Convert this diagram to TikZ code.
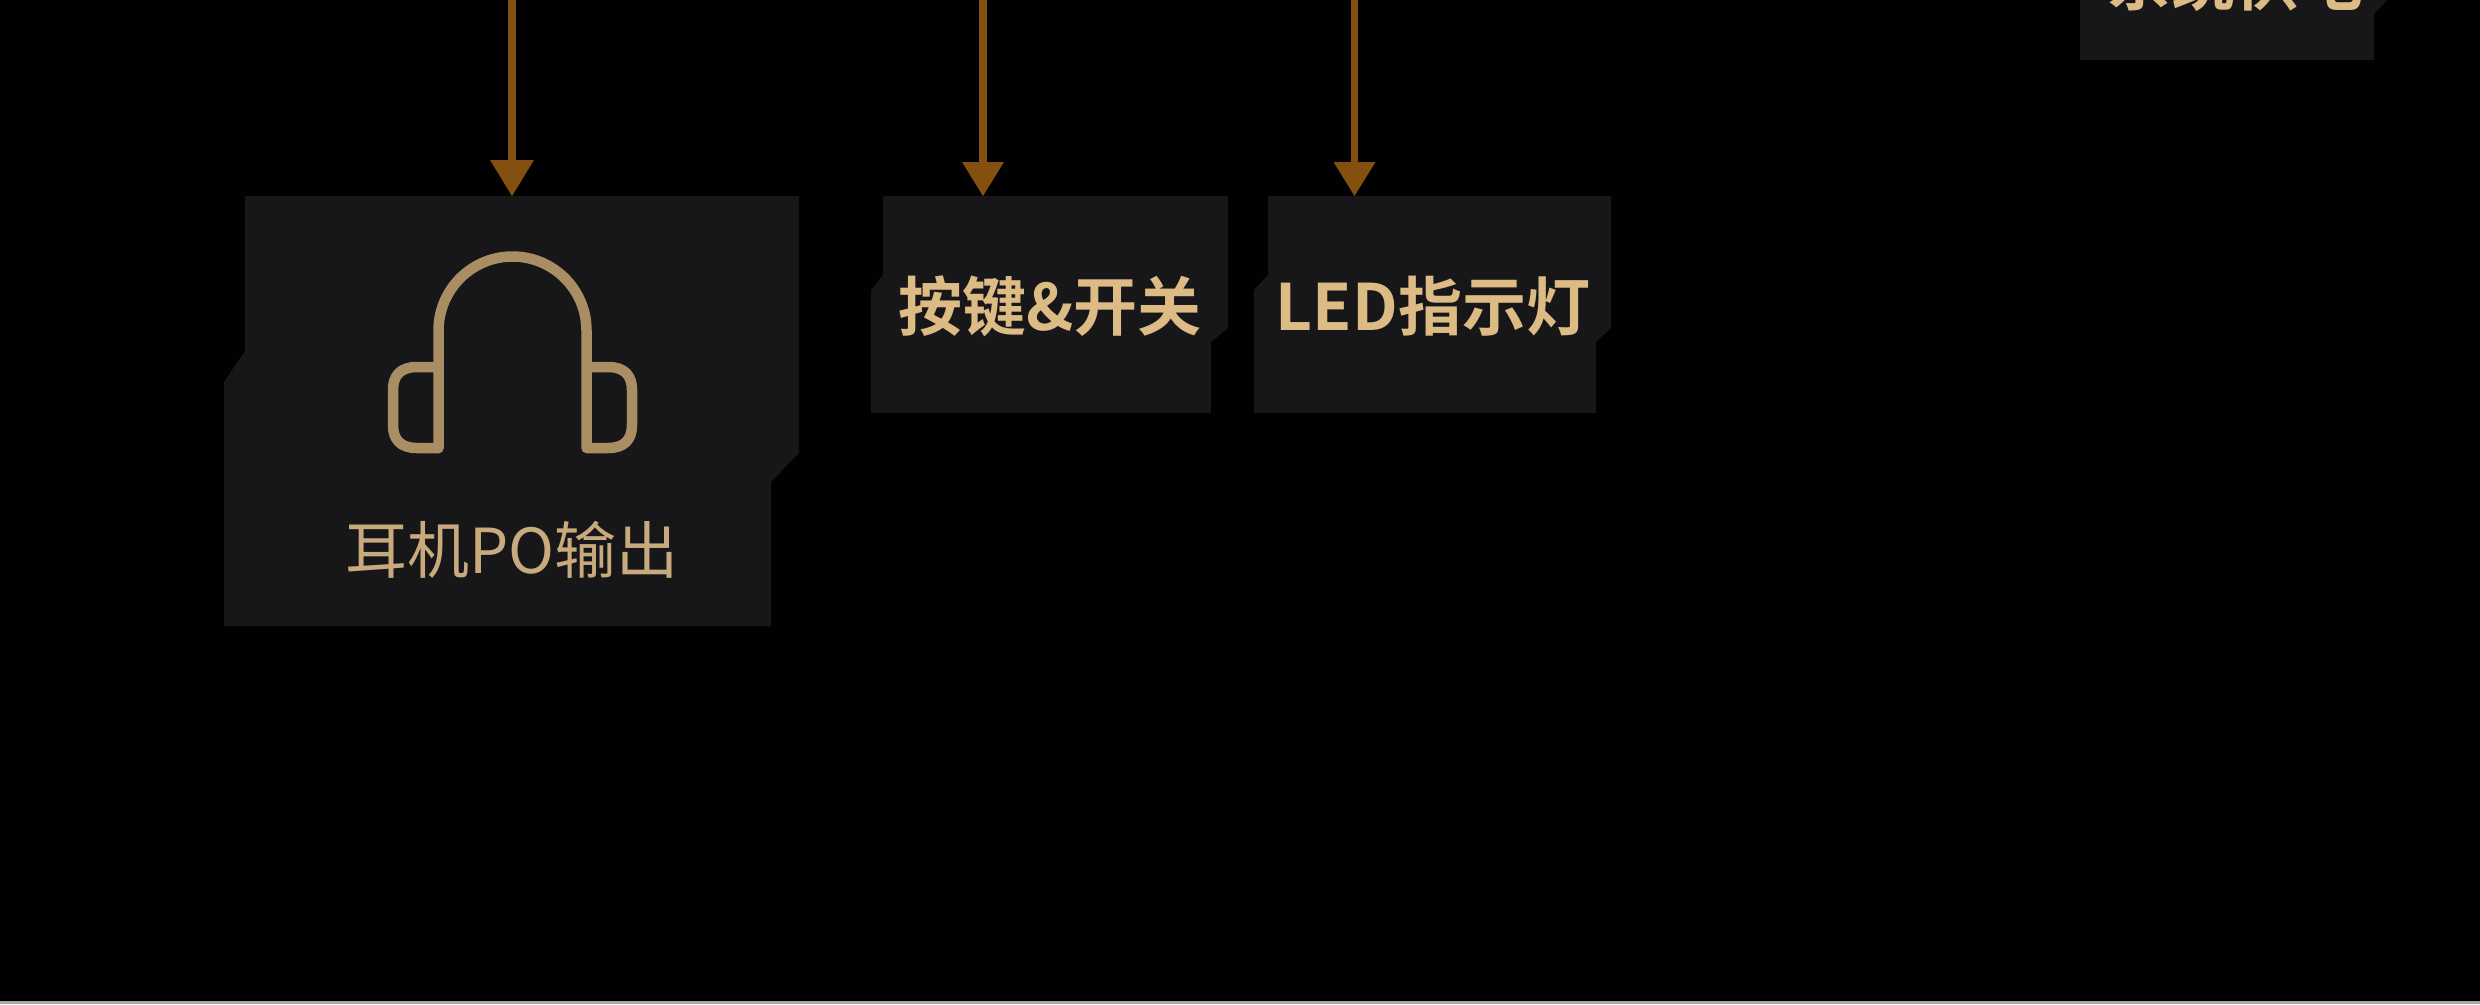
\documentclass[tikz,border=0pt]{standalone}
\usepackage{fontspec}
\newfontfamily\cjk{Noto Sans CJK SC}
\newfontfamily\cjkb{Noto Sans CJK SC Bold}
\definecolor{bgc}{HTML}{010103}
\definecolor{boxc}{HTML}{17171A}
\definecolor{arrowc}{HTML}{84500F}
\definecolor{iconc}{HTML}{A98E64}
\definecolor{thinc}{HTML}{C9AA7C}
\definecolor{boldc}{HTML}{DDBB85}
\definecolor{linec}{HTML}{A8A8A8}
\tikzset{x=1pt,y=-1pt,
  panel/.style={fill=boxc,draw=none},
  feed/.style={draw=arrowc,line width=7.5pt},
  feedhead/.style={fill=arrowc,draw=none},
  phones/.style={draw=iconc,line width=10.5pt,line join=round,line cap=round},
  thinlabel/.style={text=thinc,font=\cjk\fontsize{62}{62}\selectfont,inner sep=0pt},
  boldlabel/.style={text=boldc,font=\cjkb\fontsize{64}{64}\selectfont,inner sep=0pt}}
\begin{document}
\begin{tikzpicture}
\useasboundingbox (0,0) rectangle (2480,1004);
\fill[bgc] (0,0) rectangle (2480,1004);
\fill[linec] (0,1000.5) rectangle (2480,1004);
% panels
\fill[panel] (245,196) -- (799,196) -- (799,453) -- (771,482) -- (771,626) -- (224,626) -- (224,382) -- (245,351) -- cycle;
\fill[panel] (883,196) -- (1228,196) -- (1228,328) -- (1211,342) -- (1211,413) -- (871,413) -- (871,290) -- (883,275) -- cycle;
\fill[panel] (1268,196) -- (1611,196) -- (1611,328) -- (1596,342) -- (1596,413) -- (1254,413) -- (1254,290) -- (1268,275) -- cycle;
\fill[panel] (2080,-1) -- (2388,-1) -- (2374,14) -- (2374,60) -- (2080,60) -- cycle;
% headphones
\draw[phones] (438.5,448) -- (438.5,330.5) arc[start angle=180,end angle=360,radius=74] -- (586.5,448) -- (608,448)
  .. controls (625,448) and (632,439) .. (632,425) -- (632,390) .. controls (632,376) and (625,367) .. (608,367) -- (586.5,367);
\draw[phones] (438.5,448) -- (417,448) .. controls (400,448) and (393,439) .. (393,425) -- (393,390) .. controls (393,376) and (400,367) .. (417,367) -- (438.5,367);
% labels
\node[thinlabel] (hp) at (512,550) {耳机PO输出};
\node[boldlabel] (btn) at (1050,306) {按键\&开关};
\node[boldlabel] (led) at (1433,306) {LED指示灯};
\node[boldlabel,anchor=base] (pwr) at (2235,5) {系统供电};
% arrows
\coordinate (t1) at (512,-2); \coordinate (h1) at (512,162);
\coordinate (t2) at (983,-2); \coordinate (h2) at (983,166);
\coordinate (t3) at (1354.5,-2); \coordinate (h3) at (1354.5,166);
\draw[feed] (t1) -- (h1);
\draw[feed] (t2) -- (h2);
\draw[feed] (t3) -- (h3);
\fill[feedhead] (490,160) -- (534,160) -- (512,196) -- cycle;
\fill[feedhead] (962,162) -- (1004,162) -- (983,196) -- cycle;
\fill[feedhead] (1333.5,162) -- (1375.5,162) -- (1354.5,196) -- cycle;
\end{tikzpicture}
\end{document}
